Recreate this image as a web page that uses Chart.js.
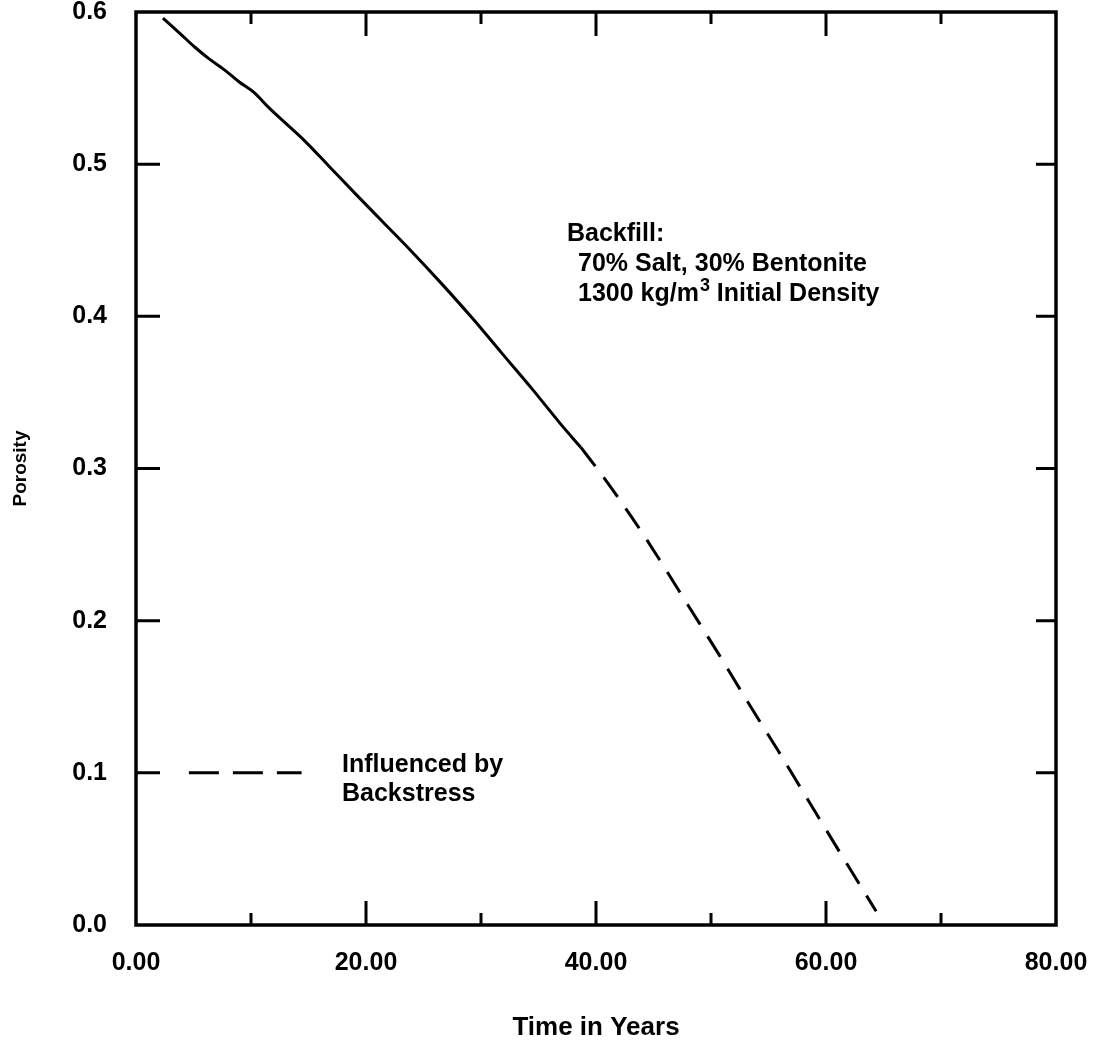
<!DOCTYPE html>
<html>
<head>
<meta charset="utf-8">
<script src="https://cdn.jsdelivr.net/npm/chart.js@4"></script>
<style>
  html, body { margin: 0; padding: 0; background: #fff; }
  canvas { display: block; }
</style>
</head>
<body>
<canvas id="porosityChart" width="1100" height="1044"></canvas>
<script>
// Porosity vs time
const solidYears = [2.34, 3.81, 5.10, 6.39, 7.69, 8.98, 10.28, 11.57, 12.86, 14.58, 16.74, 19.15,
    21.47, 24.05, 26.63, 29.22, 31.79, 34.37, 36.95, 38.67];
const solidPorosity = [0.596, 0.586, 0.577, 0.569, 0.562, 0.554, 0.547, 0.537, 0.528, 0.516, 0.499, 0.480,
    0.462, 0.442, 0.421, 0.399, 0.376, 0.353, 0.329, 0.314];

// part influenced by backstress (dashed)
const dashedYears = [38.67, 40.39, 42.10, 43.82, 45.53, 48.10, 50.67, 53.24, 55.80, 58.37, 60.94, 64.36];
const dashedPorosity = [0.314, 0.297, 0.279, 0.260, 0.240, 0.209, 0.178, 0.146, 0.115, 0.083, 0.051, 0.009];

const xTicks = [0, 10, 20, 30, 40, 50, 60, 70, 80];
const yTicks = [0, 0.1, 0.2, 0.3, 0.4, 0.5, 0.6];

const FONT = '"Liberation Sans", Arial, Helvetica, sans-serif';

function toPoints(xs, ys) {
    return xs.map((x, i) => ({ x: x, y: ys[i] }));
}

// frame, inward ticks and the text notes
const framePlugin = {
    id: 'frame',
    afterDraw(chart) {
        const ctx = chart.ctx;
        const a = chart.chartArea;
        const xs = chart.scales.x;
        const ys = chart.scales.y;
        ctx.save();
        ctx.strokeStyle = '#000';
        ctx.lineCap = 'butt';

        // ticks
        ctx.lineWidth = 3;
        xTicks.slice(1, -1).forEach(v => {
            const px = xs.getPixelForValue(v);
            const len = v % 20 === 0 ? 24 : 12;
            ctx.beginPath();
            ctx.moveTo(px, a.bottom); ctx.lineTo(px, a.bottom - len);
            ctx.moveTo(px, a.top); ctx.lineTo(px, a.top + len);
            ctx.stroke();
        });
        yTicks.slice(1, -1).forEach(v => {
            const py = ys.getPixelForValue(v);
            ctx.beginPath();
            ctx.moveTo(a.left, py); ctx.lineTo(a.left + 24, py);
            ctx.moveTo(a.right, py); ctx.lineTo(a.right - 20, py);
            ctx.stroke();
        });

        // frame
        ctx.lineWidth = 3.5;
        ctx.strokeRect(a.left, a.top, a.right - a.left, a.bottom - a.top);

        // legend sample for the dashed part
        const ly = ys.getPixelForValue(0.1);
        ctx.lineWidth = 3;
        ctx.setLineDash([30, 14]);
        ctx.beginPath();
        ctx.moveTo(xs.getPixelForValue(4.6), ly);
        ctx.lineTo(xs.getPixelForValue(14.4), ly);
        ctx.stroke();
        ctx.setLineDash([]);

        ctx.fillStyle = '#000';
        ctx.font = 'bold 25px ' + FONT;
        ctx.textBaseline = 'middle';
        ctx.textAlign = 'left';
        ctx.fillText('Influenced by', 342, 765);
        ctx.fillText('Backstress', 342, 794);

        ctx.fillText('Backfill:', 567, 234);
        ctx.fillText('70% Salt, 30% Bentonite', 578, 264);
        let tx = 578;
        const part1 = '1300 kg/m';
        ctx.fillText(part1, tx, 294);
        tx += ctx.measureText(part1).width;
        ctx.font = 'bold 18px ' + FONT;
        ctx.fillText('3', tx + 1, 286);
        tx += ctx.measureText('3').width + 1;
        ctx.font = 'bold 25px ' + FONT;
        ctx.fillText(' Initial Density', tx, 294);
        ctx.restore();
    }
};

const ctx = document.getElementById('porosityChart').getContext('2d');
new Chart(ctx, {
    type: 'line',
    data: {
        datasets: [{
            label: 'Porosity',
            data: toPoints(solidYears, solidPorosity),
            borderColor: '#000',
            borderWidth: 3,
            pointRadius: 0,
            fill: false,
            cubicInterpolationMode: 'monotone'
        }, {
            label: 'Influenced by Backstress',
            data: toPoints(dashedYears, dashedPorosity),
            borderColor: '#000',
            borderWidth: 3,
            borderDash: [24, 14],
            pointRadius: 0,
            fill: false,
            cubicInterpolationMode: 'monotone'
        }]
    },
    options: {
        responsive: false,
        animation: false,
        layout: { padding: { left: 0, right: 44, top: 12, bottom: 0 } },
        plugins: {
            legend: { display: false },
            tooltip: { enabled: false }
        },
        scales: {
            x: {
                type: 'linear',
                min: 0,
                max: 80,
                grid: { display: false, drawTicks: false },
                border: { display: false },
                ticks: {
                    stepSize: 10,
                    autoSkip: false,
                    maxRotation: 0,
                    padding: 26,
                    color: '#000',
                    font: { family: FONT, size: 25, weight: 'bold', lineHeight: 1 },
                    callback: v => (v % 20 === 0 ? v.toFixed(2) : '')
                },
                title: {
                    display: true,
                    text: 'Time in Years',
                    color: '#000',
                    font: { family: FONT, size: 26, weight: 'bold' },
                    padding: { top: 0, bottom: 1 }
                },
                afterFit: s => {
                    s.height = 119;
                    s.paddingLeft = 0;
                    s.paddingRight = 0;
                }
            },
            y: {
                type: 'linear',
                min: 0,
                max: 0.6,
                grid: { display: false, drawTicks: false },
                border: { display: false },
                ticks: {
                    stepSize: 0.1,
                    padding: 29,
                    color: '#000',
                    font: { family: FONT, size: 25, weight: 'bold', lineHeight: 1 },
                    callback: v => v.toFixed(1)
                },
                title: {
                    display: true,
                    text: 'Porosity',
                    color: '#000',
                    font: { family: FONT, size: 19, weight: 'bold' },
                    padding: { top: 9, bottom: 0 }
                },
                afterFit: s => {
                    s.width = 136;
                    s.paddingTop = 0;
                    s.paddingBottom = 0;
                }
            }
        }
    },
    plugins: [framePlugin]
});
</script>
</body>
</html>
